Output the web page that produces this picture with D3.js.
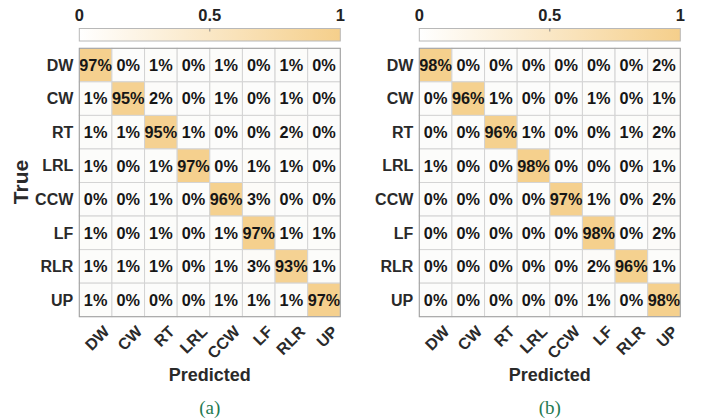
<!DOCTYPE html>
<html>
<head>
<meta charset="utf-8">
<script src="https://cdn.jsdelivr.net/npm/d3@7"></script>
<style>
  body { margin: 0; background: #fff; }
  svg text { font-family: Arial, "Liberation Sans", sans-serif; }
</style>
</head>
<body>
<svg id="chart" width="710" height="419"></svg>
<script>
// class labels (rows = true, cols = predicted)
const classes = ["DW", "CW", "RT", "LRL", "CCW", "LF", "RLR", "UP"]

// confusion matrix (a), percent
const matrixA = [
  [97, 0, 1, 0, 1, 0, 1, 0],
  [1, 95, 2, 0, 1, 0, 1, 0],
  [1, 1, 95, 1, 0, 0, 2, 0],
  [1, 0, 1, 97, 0, 1, 1, 0],
  [0, 0, 1, 0, 96, 3, 0, 0],
  [1, 0, 1, 0, 1, 97, 1, 1],
  [1, 1, 1, 0, 1, 3, 93, 1],
  [1, 0, 0, 0, 1, 1, 1, 97]
]

// confusion matrix (b), percent
const matrixB = [
  [98, 0, 0, 0, 0, 0, 0, 2],
  [0, 96, 1, 0, 0, 1, 0, 1],
  [0, 0, 96, 1, 0, 0, 1, 2],
  [1, 0, 0, 98, 0, 0, 0, 1],
  [0, 0, 0, 0, 97, 1, 0, 2],
  [0, 0, 0, 0, 0, 98, 0, 2],
  [0, 0, 0, 0, 0, 2, 96, 1],
  [0, 0, 0, 0, 0, 1, 0, 98]
]

const colorbarTicks = [0, 0.5, 1]
const captions = ["(a)", "(b)"]

const svg = d3.select("#chart")
const lowColor = "#fcfcfb", highColor = "#f5cf8b"
const color = d3.scaleLinear().domain([0, 1]).range([lowColor, highColor])

// gradient for colour bars
const grad = svg.append("defs").append("linearGradient").attr("id", "cbGrad")
grad.append("stop").attr("offset", "0%").attr("stop-color", "#ffffff")
grad.append("stop").attr("offset", "100%").attr("stop-color", highColor)

const mTop = 48.3, mWidth = 261, mHeight = 268.4

function drawPanel(data, left, caption){
  const g = svg.append("g").attr("transform", `translate(${left},0)`)

  const x = d3.scaleBand().domain(classes).range([0, mWidth])
  const y = d3.scaleBand().domain(classes).range([mTop, mTop + mHeight])

  // colour bar
  const cb = d3.scaleLinear().domain([0, 1]).range([0, mWidth])
  g.append("rect")
    .attr("x", 0).attr("y", 28.5)
    .attr("width", mWidth).attr("height", 12.5)
    .attr("fill", "url(#cbGrad)")
    .attr("stroke", "#b8b8b8").attr("stroke-width", 1)
  g.selectAll(".cbtick").data(colorbarTicks.slice(1, -1)).join("line")
    .attr("x1", d => cb(d)).attr("x2", d => cb(d))
    .attr("y1", 28.5).attr("y2", 31.5)
    .attr("stroke", "#888")
  g.selectAll(".cblab").data(colorbarTicks).join("text")
    .attr("x", d => cb(d)).attr("y", 20.5)
    .attr("text-anchor", "middle")
    .attr("font-size", 16.5).attr("font-weight", "bold").attr("fill", "#222")
    .text(d => d)

  // cells
  const cells = []
  data.forEach((row, i) => row.forEach((v, j) => cells.push({r: classes[i], c: classes[j], v})))

  g.selectAll(".cell").data(cells).join("rect")
    .attr("x", d => x(d.c)).attr("y", d => y(d.r))
    .attr("width", x.bandwidth()).attr("height", y.bandwidth())
    .attr("fill", d => color(d.v / 100))
    .attr("stroke", "#d4d4d4").attr("stroke-width", 1)

  g.selectAll(".val").data(cells).join("text")
    .attr("x", d => x(d.c) + x.bandwidth() / 2)
    .attr("y", d => y(d.r) + y.bandwidth() / 2)
    .attr("dy", "0.36em")
    .attr("text-anchor", "middle")
    .attr("font-size", 16.3).attr("font-weight", "bold").attr("fill", "#161616")
    .text(d => d.v + "%")

  // outer border
  g.append("rect")
    .attr("x", 0).attr("y", mTop).attr("width", mWidth).attr("height", mHeight)
    .attr("fill", "none").attr("stroke", "#a0a0a0")

  // row labels
  g.selectAll(".ylab").data(classes).join("text")
    .attr("x", -6).attr("y", d => y(d) + y.bandwidth() / 2)
    .attr("dy", "0.36em")
    .attr("text-anchor", "end")
    .attr("font-size", 16).attr("font-weight", "bold").attr("fill", "#2a2a2a")
    .text(d => d)

  // column labels, rotated
  g.selectAll(".xlab").data(classes).join("text")
    .attr("transform", d => `translate(${x(d) + x.bandwidth() / 2 + 7},${mTop + mHeight + 8}) rotate(-45)`)
    .attr("text-anchor", "end")
    .attr("dy", "0.7em")
    .attr("font-size", 16).attr("font-weight", "bold").attr("fill", "#2a2a2a")
    .text(d => d)

  g.append("text")
    .attr("x", mWidth / 2).attr("y", 381)
    .attr("text-anchor", "middle")
    .attr("font-size", 18).attr("font-weight", "bold").attr("fill", "#2a2a2a")
    .text("Predicted")

  g.append("text")
    .attr("x", mWidth / 2).attr("y", 414)
    .attr("text-anchor", "middle")
    .attr("font-size", 19).attr("fill", "#1f7a52")
    .style("font-family", "'Liberation Serif', 'Times New Roman', serif")
    .text(caption)
}

drawPanel(matrixA, 79.3, captions[0])
drawPanel(matrixB, 419.3, captions[1])

// shared y title
svg.append("text")
  .attr("transform", `translate(28,182) rotate(-90)`)
  .attr("text-anchor", "middle")
  .attr("font-size", 21).attr("font-weight", "bold").attr("fill", "#2a2a2a")
  .text("True")
</script>
</body>
</html>
